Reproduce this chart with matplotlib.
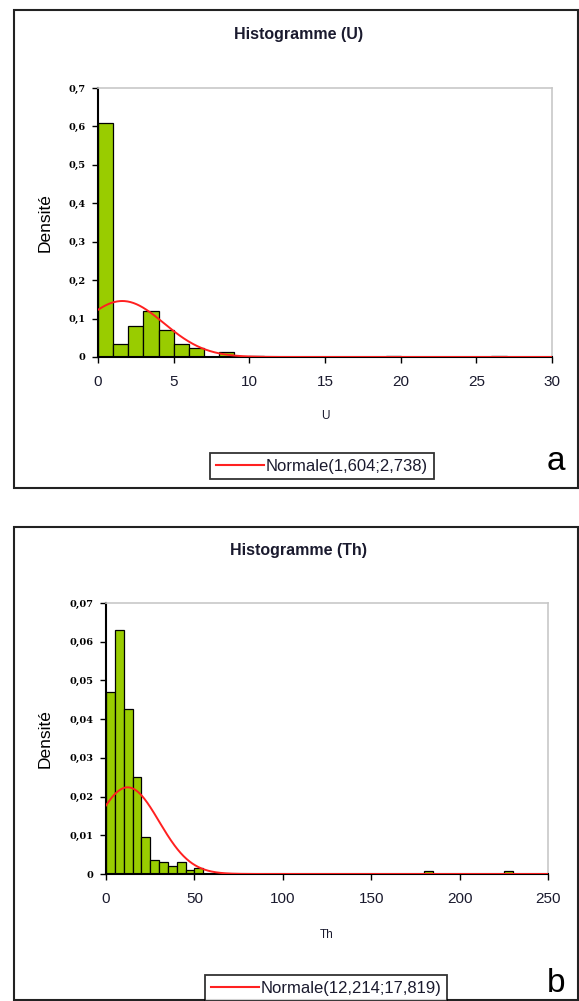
import numpy as np
import matplotlib
matplotlib.use("Agg")
import matplotlib.pyplot as plt
from matplotlib.patches import Rectangle
from matplotlib.lines import Line2D

plt.rcParams['font.family'] = ['Liberation Sans', 'DejaVu Sans']

# ---- data (a): U ----
u_bin_width = 1
u_heights = [0.61, 0.033, 0.08, 0.12, 0.07, 0.033, 0.023, 0.0, 0.013, 0.0,
             0.003, 0, 0, 0, 0, 0, 0, 0, 0, 0.003,
             0, 0, 0, 0, 0, 0, 0.003, 0, 0, 0]
u_mu, u_sigma = 1.604, 2.738
u_xticks = [0, 5, 10, 15, 20, 25, 30]
u_yticks = [0, 0.1, 0.2, 0.3, 0.4, 0.5, 0.6, 0.7]
u_ylabels = ["0", "0,1", "0,2", "0,3", "0,4", "0,5", "0,6", "0,7"]

# ---- data (b): Th ----
th_bin_width = 5
th_heights = [0.047, 0.063, 0.0425, 0.025, 0.0095, 0.0035, 0.003, 0.002, 0.003, 0.001,
              0.0015] + [0] * 25 + [0.0008] + [0] * 8 + [0.0008] + [0] * 4
th_mu, th_sigma = 12.214, 17.819
th_xticks = [0, 50, 100, 150, 200, 250]
th_yticks = [0, 0.01, 0.02, 0.03, 0.04, 0.05, 0.06, 0.07]
th_ylabels = ["0", "0,01", "0,02", "0,03", "0,04", "0,05", "0,06", "0,07"]

W, H = 579, 1001
fig = plt.figure(figsize=(W / 100, H / 100), dpi=100)


def fx(x):
    return x / W


def fy(y):
    return 1 - y / H


def panel(box, axrect, title, title_y, heights, bw, mu, sigma, xticks, yticks, ylabels,
          xmax, ymax, xlabel, xlabel_y, ylabel_x, leg_center, leg_label, letter, letter_pos):
    bx0, by0, bx1, by1 = box
    fig.patches.append(Rectangle((fx(bx0), fy(by1)), fx(bx1 - bx0), (by1 - by0) / H,
                                 transform=fig.transFigure, fill=False,
                                 edgecolor='#222222', linewidth=1.5))
    ax0, ay0, ax1, ay1 = axrect
    ax = fig.add_axes([fx(ax0), fy(ay1), fx(ax1 - ax0), (ay1 - ay0) / H])
    lefts = np.arange(len(heights)) * bw
    ax.bar(lefts, heights, width=bw, align='edge', color='#99CC00',
           edgecolor='black', linewidth=0.9, zorder=2)
    xs = np.linspace(0, xmax, 600)
    pdf = np.exp(-0.5 * ((xs - mu) / sigma) ** 2) / (sigma * np.sqrt(2 * np.pi))
    ax.plot(xs, pdf, color='#FF2020', linewidth=1.4, zorder=3)
    ax.set_xlim(0, xmax)
    ax.set_ylim(0, ymax)
    ax.set_xticks(xticks)
    ax.set_xticklabels([str(t) for t in xticks], fontsize=11, color='#1a1a2e')
    ax.set_yticks(yticks)
    ax.set_yticklabels(ylabels, fontsize=7, fontweight='bold', family='DejaVu Serif')
    ax.tick_params(direction='out', length=4, width=1, color='black')
    ax.tick_params(axis='x', pad=9)
    ax.tick_params(axis='y', pad=5)
    for s in ['left', 'bottom']:
        ax.spines[s].set_color('black')
        ax.spines[s].set_linewidth(1.5)
    for s in ['top', 'right']:
        ax.spines[s].set_color('#c8c8c8')
        ax.spines[s].set_linewidth(1.2)
    fig.text(fx(299), fy(title_y), title, ha='center', va='center',
             fontsize=11.5, fontweight='bold', color='#1a1a2e')
    fig.text(fx((ax0 + ax1) / 2), fy(xlabel_y), xlabel, ha='center', va='center',
             fontsize=8.5, color='#1a1a2e')
    fig.text(fx(ylabel_x), fy((ay0 + ay1) / 2), "Densité", rotation=90,
             ha='center', va='center', fontsize=12.5)
    h = Line2D([], [], color='#FF2020', linewidth=1.5)
    leg = fig.legend([h], [leg_label], loc='center',
                     bbox_to_anchor=(fx(leg_center[0]), fy(leg_center[1])),
                     fontsize=12, frameon=True, fancybox=False, handlelength=2.9,
                     handletextpad=0.1, borderpad=0.35, borderaxespad=0)
    for t in leg.get_texts():
        t.set_color('#1a1a2e')
    leg.get_frame().set_edgecolor('black')
    leg.get_frame().set_linewidth(1.3)
    fig.text(fx(letter_pos[0]), fy(letter_pos[1]), letter, ha='center', va='center',
             fontsize=24)
    return ax


panel((14, 10, 578, 488), (98, 88, 552, 357), "Histogramme (U)", 34,
      u_heights, u_bin_width, u_mu, u_sigma, u_xticks, u_yticks, u_ylabels,
      30, 0.7, "U", 416, 45, (322, 466), "Normale(1,604;2,738)", "a", (556, 462))

panel((14, 527, 578, 1000), (106, 603, 548, 874), "Histogramme (Th)", 551,
      th_heights, th_bin_width, th_mu, th_sigma, th_xticks, th_yticks, th_ylabels,
      250, 0.07, "Th", 935, 45, (326, 988), "Normale(12,214;17,819)", "b", (556, 984))

fig.savefig("out.png", dpi=100)
